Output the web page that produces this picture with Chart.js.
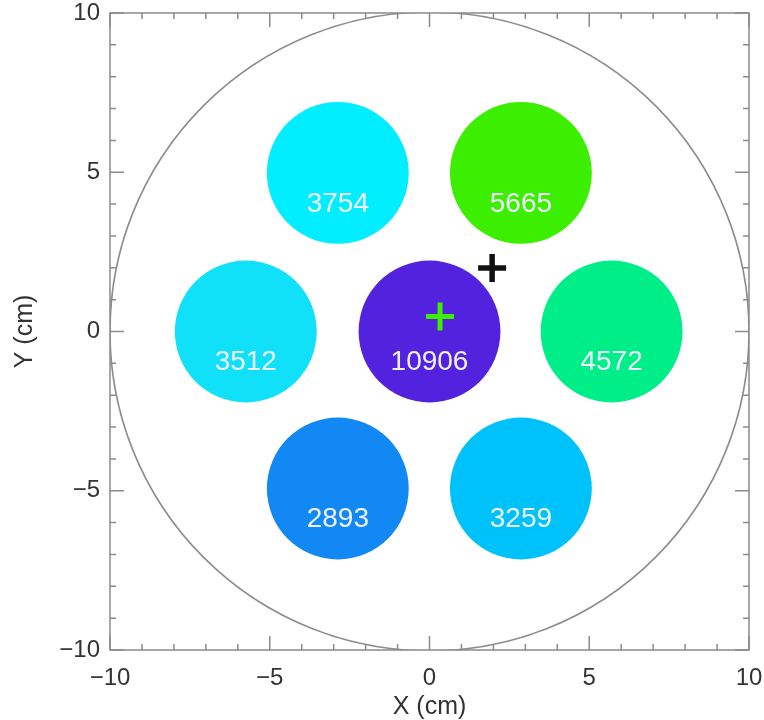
<!DOCTYPE html>
<html>
<head>
<meta charset="utf-8">
<script src="https://cdn.jsdelivr.net/npm/chart.js@4/dist/chart.umd.min.js"></script>
<style>
  html, body { margin: 0; padding: 0; background: #fff; }
  #wrap { width: 764px; height: 720px; }
</style>
</head>
<body>
<div id="wrap"><canvas id="c" width="764" height="720"></canvas></div>
<script>
// Detector positions (cm), counts and fill colours
const detX = [-2.87, 2.86, -5.75, 0.0, 5.70, -2.87, 2.86];
const detY = [4.98, 4.98, 0.0, 0.0, 0.0, -4.93, -4.93];
const counts = [3754, 5665, 3512, 10906, 4572, 2893, 3259];
const detColors = ['#00eeff', '#3cee00', '#10e0f8', '#5222de', '#00ee88', '#1288f4', '#00c2fa'];
const detRadius = 2.22;      // cm
const vesselRadius = 10;     // cm
// Source markers
const greenCross = { x: 0.33, y: 0.47 };
const blackCross = { x: 1.96, y: 1.99 };
const xTicks = [-10, -5, 0, 5, 10];
const yTicks = [-10, -5, 0, 5, 10];

const FONT = '"Liberation Sans", Arial, Helvetica, sans-serif';

// radius in pixels for a length given in data units along x
function pxRadius(chart, r) {
  const s = chart.scales.x;
  return Math.abs(s.getPixelForValue(r) - s.getPixelForValue(0));
}

const fmt = v => (v < 0 ? '\u2212' + Math.abs(v) : String(v));

// Frame with inward major/minor ticks on all four sides
const framePlugin = {
  id: 'frame',
  afterDatasetsDraw(chart) {
    const { ctx, chartArea: a, scales: { x, y } } = chart;
    ctx.save();
    ctx.strokeStyle = '#8a8a8a';
    ctx.lineWidth = 1.5;
    ctx.strokeRect(a.left, a.top, a.right - a.left, a.bottom - a.top);
    ctx.beginPath();
    for (let v = Math.ceil(x.min); v <= x.max; v++) {
      const len = v % 5 === 0 ? 14 : 6;
      const px = x.getPixelForValue(v);
      ctx.moveTo(px, a.bottom); ctx.lineTo(px, a.bottom - len);
      ctx.moveTo(px, a.top); ctx.lineTo(px, a.top + len);
    }
    for (let v = Math.ceil(y.min); v <= y.max; v++) {
      const len = v % 5 === 0 ? 14 : 6;
      const py = y.getPixelForValue(v);
      ctx.moveTo(a.left, py); ctx.lineTo(a.left + len, py);
      ctx.moveTo(a.right, py); ctx.lineTo(a.right - len, py);
    }
    ctx.stroke();
    ctx.restore();
  }
};

// Count labels under each detector centre
const countLabels = {
  id: 'countLabels',
  afterDatasetsDraw(chart) {
    const { ctx, scales: { x, y } } = chart;
    ctx.save();
    ctx.font = '28px ' + FONT;
    ctx.fillStyle = '#eef2ff';
    ctx.textAlign = 'center';
    ctx.textBaseline = 'middle';
    counts.forEach((c, i) => {
      ctx.fillText(String(c), x.getPixelForValue(detX[i]), y.getPixelForValue(detY[i]) + 31);
    });
    ctx.restore();
  }
};

new Chart(document.getElementById('c'), {
  type: 'scatter',
  data: {
    datasets: [
      {
        label: 'vessel',
        data: [{ x: 0, y: 0 }],
        pointRadius: c => pxRadius(c.chart, vesselRadius),
        pointBackgroundColor: 'rgba(0,0,0,0)',
        pointBorderColor: '#8c8c8c',
        pointBorderWidth: 1.6,
        order: 3
      },
      {
        label: 'detectors',
        data: detX.map((v, i) => ({ x: v, y: detY[i] })),
        pointRadius: c => pxRadius(c.chart, detRadius),
        pointBackgroundColor: detColors,
        pointBorderColor: detColors,
        pointBorderWidth: 0,
        order: 2
      },
      {
        label: 'green',
        data: [greenCross],
        pointStyle: 'cross',
        pointRadius: 14,
        pointBorderColor: '#3cee00',
        pointBorderWidth: 5,
        order: 1
      },
      {
        label: 'black',
        data: [blackCross],
        pointStyle: 'cross',
        pointRadius: 14,
        pointBorderColor: '#111111',
        pointBorderWidth: 5.5,
        order: 0
      }
    ]
  },
  options: {
    responsive: false,
    animation: false,
    events: [],
    layout: { autoPadding: false, padding: { top: 13, right: 15, left: 0, bottom: 0 } },
    plugins: { legend: { display: false }, tooltip: { enabled: false } },
    scales: {
      x: {
        type: 'linear', min: -10, max: 10,
        afterFit: s => { s.height = 70; s.paddingLeft = 0; s.paddingRight = 0; },
        afterBuildTicks: s => { s.ticks = xTicks.map(v => ({ value: v })); },
        grid: { display: false, drawTicks: false },
        border: { display: false },
        ticks: { color: '#333', font: { family: FONT, size: 24 }, padding: 14, callback: fmt, maxRotation: 0 },
        title: { display: true, text: 'X (cm)', color: '#333', font: { family: FONT, size: 25, lineHeight: 1 }, padding: { top: 0, bottom: 0 } }
      },
      y: {
        type: 'linear', min: -10, max: 10,
        afterFit: s => { s.width = 110; s.paddingTop = 0; s.paddingBottom = 0; },
        afterBuildTicks: s => { s.ticks = yTicks.map(v => ({ value: v })); },
        grid: { display: false, drawTicks: false },
        border: { display: false },
        ticks: { color: '#333', font: { family: FONT, size: 24 }, padding: 10, callback: fmt },
        title: { display: true, text: 'Y (cm)', color: '#333', font: { family: FONT, size: 25, lineHeight: 1.2 }, padding: { top: 10, bottom: 0 } }
      }
    }
  },
  plugins: [framePlugin, countLabels]
});
</script>
</body>
</html>
